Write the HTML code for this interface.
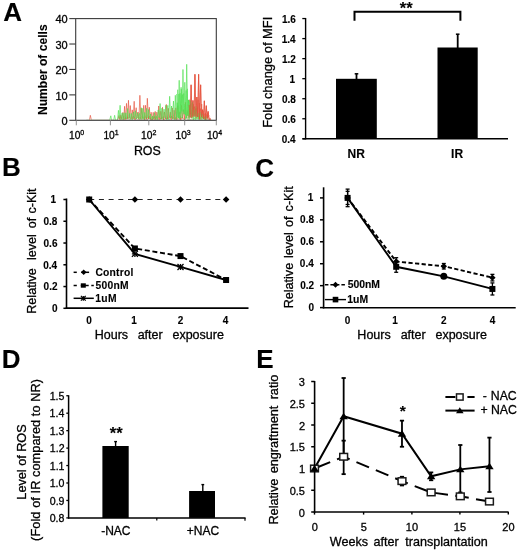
<!DOCTYPE html>
<html><head><meta charset="utf-8"><style>
html,body{margin:0;padding:0;background:#fff;width:520px;height:555px;overflow:hidden}
svg{display:block;font-family:"Liberation Sans", sans-serif;filter:blur(0.3px)}
text{stroke:#000;stroke-width:0.3px}
text[font-weight=bold]{stroke-width:0.12px}
</style></head><body>
<svg width="520" height="555" viewBox="0 0 520 555">
<defs><clipPath id="hclip"><rect x="76.2" y="19" width="139.6" height="100.8"/></clipPath></defs>
<text x="3.35" y="20.80" font-size="26" font-weight="bold">A</text>
<g clip-path="url(#hclip)">
<polyline points="119.00,116.60 119.80,118.82 120.60,116.55 121.40,117.55 122.20,117.60 123.00,118.41 123.80,116.52 124.60,119.83 125.40,117.63 126.20,119.14 127.00,117.60 127.80,117.38 128.60,119.65 129.40,119.50 130.20,120.20 131.00,119.38 131.80,119.99 132.60,118.70 133.40,116.41 134.20,118.84 135.00,119.05 135.80,118.43 136.60,119.17 137.40,117.37 138.20,117.43 139.00,119.65 139.80,119.34 140.60,117.61 141.40,116.54 142.20,117.72 143.00,118.58 143.80,116.40 144.60,120.27 145.40,120.06 146.20,117.18 147.00,118.66 147.80,120.12 148.60,118.11 149.40,116.34 150.20,118.22 151.00,118.90 151.80,119.92 152.60,120.02 153.40,116.70 154.20,118.34 155.00,116.56 155.80,120.08 156.60,119.33 157.40,120.10 158.20,118.71 159.00,120.06 159.80,119.28 160.60,118.67 161.40,119.08 162.20,120.09 163.00,120.15 163.80,116.41 164.60,119.58 165.40,118.27 166.20,118.69 167.00,118.17 167.80,119.96 168.60,119.04 169.40,119.87 170.20,118.13 171.00,116.61 171.80,117.91 172.60,116.87 173.40,119.44 174.20,120.23 175.00,118.14 175.80,118.35 176.60,118.01 177.40,118.79 178.20,117.80 179.00,117.40 179.80,116.65 180.60,119.07 181.40,118.50 182.20,116.99 183.00,119.40 183.80,119.84 184.60,119.05 185.40,119.95 186.20,117.21 187.00,117.02 187.80,119.05 188.60,119.78 189.40,119.97 190.20,119.32 191.00,119.96 191.80,118.59 192.60,117.99 193.40,119.32 194.20,120.05 195.00,117.50 195.80,120.11 196.60,119.50 197.40,119.16 198.20,118.80 199.00,119.91 199.80,118.62 200.60,119.04 201.40,117.29 202.20,118.08 203.00,116.72 203.80,117.68 204.60,117.26 205.40,118.00 206.20,118.53 207.00,117.03 207.80,117.68 208.60,116.48" fill="none" stroke="#7ae87a" stroke-width="0.5" stroke-linejoin="round"/>
<polyline points="118.30,117.39 119.10,117.50 119.90,119.23 120.70,117.05 121.50,118.77 122.30,119.78 123.10,120.04 123.90,119.62 124.70,119.25 125.50,117.60 126.30,119.16 127.10,120.05 127.90,117.24 128.70,118.07 129.50,120.19 130.30,120.10 131.10,119.78 131.90,118.87 132.70,116.86 133.50,116.50 134.30,117.85 135.10,119.38 135.90,118.58 136.70,118.85 137.50,118.98 138.30,120.25 139.10,117.96 139.90,116.99 140.70,117.39 141.50,119.92 142.30,118.18 143.10,119.62 143.90,117.46 144.70,118.52 145.50,116.55 146.30,117.12 147.10,119.83 147.90,119.03 148.70,116.64 149.50,118.46 150.30,118.56 151.10,118.53 151.90,117.23 152.70,116.55 153.50,118.17 154.30,116.42 155.10,117.92 155.90,119.89 156.70,117.04 157.50,118.62 158.30,120.09 159.10,116.39 159.90,120.17 160.70,117.99 161.50,118.37 162.30,116.77 163.10,118.73 163.90,119.44 164.70,119.19 165.50,119.50 166.30,118.05 167.10,118.87 167.90,117.30 168.70,119.33 169.50,118.89 170.30,119.31 171.10,116.37 171.90,116.94 172.70,116.90 173.50,117.83 174.30,118.70 175.10,119.73 175.90,116.97 176.70,118.34 177.50,120.15 178.30,119.62 179.10,119.91 179.90,117.43 180.70,116.70 181.50,119.50 182.30,117.11 183.10,119.00 183.90,117.57 184.70,116.85 185.50,117.81 186.30,117.10 187.10,118.79 187.90,120.26 188.70,118.25 189.50,117.95 190.30,119.56 191.10,118.74 191.90,119.03 192.70,120.19 193.50,119.05 194.30,118.77 195.10,118.40 195.90,117.49 196.70,118.70 197.50,116.37 198.30,117.04 199.10,116.60 199.90,117.53 200.70,117.62 201.50,118.15 202.30,117.11 203.10,118.85 203.90,117.93 204.70,117.58 205.50,118.21 206.30,119.16 207.10,119.99 207.90,119.95 208.70,118.88 209.50,117.98 210.30,117.26" fill="none" stroke="#ea7a60" stroke-width="0.5" stroke-linejoin="round"/>
<polyline points="86.79,120.30 87.70,120.30 88.53,120.30 89.54,119.69 90.34,115.30 91.43,120.30 92.37,120.30 93.44,120.30 94.39,120.30 95.23,120.30 96.11,120.30 97.22,120.30 97.90,120.30 98.88,120.30 99.97,120.30 100.93,120.30 101.74,120.30 102.84,120.30 103.87,120.30 104.66,120.30 105.63,120.30 106.52,120.30 107.49,120.30 108.64,120.30 109.41,120.30 110.54,120.30 111.47,120.30 112.33,120.30 113.18,120.30 114.34,120.30 115.15,120.30 116.07,120.30 117.00,120.30 118.00,119.12 118.94,115.44 119.94,120.15 120.79,114.75 121.90,119.36 122.76,112.53 123.83,119.60 124.57,106.30 125.50,119.62 126.49,103.40 127.49,118.75 128.48,100.30 129.29,118.40 130.29,105.54 131.25,118.94 132.26,109.87 133.16,119.12 134.18,101.30 135.03,120.20 136.17,107.69 137.01,117.90 138.03,112.06 138.92,119.15 139.89,95.30 140.92,119.00 141.72,108.38 142.61,118.00 143.75,105.30 144.70,120.12 145.53,105.32 146.58,119.53 147.34,98.30 148.41,119.01 149.30,107.27 150.33,120.09 151.12,112.23 152.30,119.99 153.20,112.33 154.17,120.27 155.20,111.41 155.86,119.35 156.87,112.08 158.04,118.65 158.74,105.99 159.93,119.55 160.78,111.25 161.60,119.24 162.51,107.30 163.56,120.02 164.42,111.98 165.57,118.83 166.34,104.44 167.34,119.20 168.35,108.30 169.26,117.91 170.31,112.13 171.24,119.91 172.27,107.92 173.14,118.89 174.07,110.19 175.08,119.65 175.84,107.82 176.86,119.70 177.75,105.76 178.85,118.48 179.80,111.85 180.59,120.07 181.57,105.30 182.59,118.06 183.64,109.63 184.57,120.22 185.35,102.30 186.45,117.87 187.23,110.56 188.35,117.82 189.14,104.98 190.16,117.49 191.10,84.80 192.05,117.54 192.94,100.44 194.04,116.56 194.93,74.30 195.91,116.47 196.87,97.02 197.77,116.97 198.61,74.30 199.56,119.39 200.64,84.80 201.45,116.88 202.67,109.67 203.48,118.91 204.33,100.80 205.30,119.95 206.32,105.70 207.20,118.32 208.18,111.45 209.14,119.94 210.14,118.56 210.96,120.30" fill="none" stroke="#e4513a" stroke-width="0.65" stroke-linejoin="round"/>
<polyline points="188.50,109.15 189.10,115.99 189.70,99.63 190.30,114.29 190.90,103.40 191.50,117.75 192.10,110.06 192.70,115.75 193.30,104.19 193.90,115.58 194.50,106.56 195.10,114.45 195.70,108.69 196.30,118.28 196.90,107.97 197.50,116.19 198.10,99.66 198.70,119.20 199.30,103.15 199.90,115.24 200.50,108.53 201.10,119.89 201.70,104.03 202.30,117.81 202.90,111.03 203.50,118.12 204.10,113.80 204.70,119.02 205.30,113.13 205.90,117.59 206.50,114.49 207.10,119.46 207.70,112.67 208.30,117.40 208.90,115.18" fill="none" stroke="#e65a40" stroke-width="0.6" stroke-linejoin="round"/>
<polyline points="176.50,94.01 177.10,117.23 177.70,89.72 178.30,117.55 178.90,93.98 179.50,119.58 180.10,93.23 180.70,113.60 181.30,89.16 181.90,111.33 182.50,94.55 183.10,111.92 183.70,93.53 184.30,114.19 184.90,104.13 185.50,115.13 186.10,90.38 186.70,117.91 187.30,88.81 187.90,114.86 188.50,100.43 189.10,120.27 189.70,100.50" fill="none" stroke="#5ae05a" stroke-width="0.6" stroke-linejoin="round"/>
<polyline points="86.04,120.30 87.02,120.30 87.99,120.30 88.98,120.30 89.87,120.30 90.88,120.30 91.56,120.30 92.64,120.30 93.73,120.30 94.59,120.30 95.62,120.30 96.33,120.30 97.39,120.30 98.27,120.30 99.31,120.30 100.27,120.30 101.05,120.30 102.07,120.30 103.03,120.30 104.17,120.30 105.08,120.30 105.85,120.30 106.99,120.30 107.74,120.30 108.84,120.30 109.64,120.30 110.81,115.80 111.56,120.16 112.74,120.30 113.66,120.30 114.64,115.30 115.50,119.90 116.31,120.30 117.48,120.30 118.44,110.34 119.19,118.69 120.10,105.30 121.02,120.04 122.13,112.91 123.10,120.29 123.94,112.67 124.94,118.83 125.89,112.82 126.72,119.03 127.66,108.46 128.85,118.61 129.79,113.40 130.67,119.48 131.46,113.48 132.69,119.89 133.58,111.93 134.58,118.21 135.36,110.71 136.43,119.12 137.37,112.66 138.36,118.51 139.33,113.25 140.10,120.08 141.23,107.72 142.18,119.48 142.94,108.30 143.85,119.54 144.79,112.41 146.00,118.65 146.66,108.30 147.76,117.93 148.62,109.53 149.75,118.87 150.58,113.99 151.67,120.22 152.50,116.09 153.34,119.17 154.53,112.63 155.44,119.45 156.28,115.72 157.35,119.92 158.19,109.89 159.26,117.75 160.09,103.52 161.12,119.06 161.94,108.17 162.84,119.27 164.05,109.13 164.89,117.85 165.75,105.30 166.68,120.07 167.81,105.34 168.74,119.38 169.66,96.30 170.63,118.11 171.56,106.00 172.45,119.37 173.46,101.09 174.48,119.33 175.32,95.30 176.26,120.25 177.25,102.66 178.25,118.22 179.19,80.30 180.09,118.11 181.10,87.30 182.05,118.09 182.96,69.50 183.99,114.15 184.81,82.30 185.85,119.25 186.69,64.30 187.72,115.94 188.50,99.86 189.57,117.49 190.48,100.71 191.53,118.05 192.47,102.30 193.25,120.20 194.35,109.91 195.31,119.81 196.06,106.30 197.07,119.24 197.99,113.10 198.95,119.59 199.86,111.95 200.91,119.74 201.93,114.01 202.97,120.01 203.77,116.70 204.72,119.97 205.80,116.19 206.51,119.85 207.63,120.30 208.43,120.30 209.51,120.30 210.40,120.30 211.42,120.30" fill="none" stroke="#4ee04e" stroke-width="0.65" stroke-linejoin="round"/>
<polyline points="189.14,104.98 190.16,117.49 191.10,84.80 192.05,117.54 192.94,100.44 194.04,116.56 194.93,74.30 195.91,116.47 196.87,97.02 197.77,116.97 198.61,74.30 199.56,119.39 200.64,84.80 201.45,116.88 202.67,109.67 203.48,118.91 204.33,100.80 205.30,119.95 206.32,105.70 207.20,118.32 208.18,111.45 209.14,119.94 210.14,118.56 210.96,120.30" fill="none" stroke="#e4513a" stroke-width="0.65" stroke-linejoin="round"/>
</g>
<rect x="75.7" y="18.6" width="140.60000000000002" height="101.69999999999999" fill="none" stroke="#3a3a3a" stroke-width="1.1"/>
<line x1="69.30" y1="18.60" x2="75.70" y2="18.60" stroke="#3a3a3a" stroke-width="1.1"/>
<text x="55.49" y="23.29" font-size="11">40</text>
<line x1="69.30" y1="44.02" x2="75.70" y2="44.02" stroke="#3a3a3a" stroke-width="1.1"/>
<text x="55.49" y="48.71" font-size="11">30</text>
<line x1="69.30" y1="69.45" x2="75.70" y2="69.45" stroke="#3a3a3a" stroke-width="1.1"/>
<text x="55.49" y="74.14" font-size="11">20</text>
<line x1="69.30" y1="94.88" x2="75.70" y2="94.88" stroke="#3a3a3a" stroke-width="1.1"/>
<text x="55.49" y="99.56" font-size="11">10</text>
<line x1="69.30" y1="120.30" x2="75.70" y2="120.30" stroke="#3a3a3a" stroke-width="1.1"/>
<text x="61.61" y="124.99" font-size="11">0</text>
<line x1="76.30" y1="120.30" x2="76.30" y2="125.30" stroke="#888" stroke-width="0.9"/>
<text x="69.02" y="139.3" font-size="10.2">10<tspan font-size="7" dy="-4.3">0</tspan></text>
<line x1="110.40" y1="120.30" x2="110.40" y2="125.30" stroke="#888" stroke-width="0.9"/>
<text x="103.42" y="139.3" font-size="10.2">10<tspan font-size="7" dy="-4.3">1</tspan></text>
<line x1="148.80" y1="120.30" x2="148.80" y2="125.30" stroke="#888" stroke-width="0.9"/>
<text x="141.12" y="139.3" font-size="10.2">10<tspan font-size="7" dy="-4.3">2</tspan></text>
<line x1="184.70" y1="120.30" x2="184.70" y2="125.30" stroke="#888" stroke-width="0.9"/>
<text x="175.52" y="139.3" font-size="10.2">10<tspan font-size="7" dy="-4.3">3</tspan></text>
<line x1="216.30" y1="120.30" x2="216.30" y2="125.30" stroke="#888" stroke-width="0.9"/>
<text x="206.92" y="139.3" font-size="10.2">10<tspan font-size="7" dy="-4.3">4</tspan></text>
<text x="133.88" y="154.90" font-size="12.4">ROS</text>
<text transform="translate(47.00 115.08) rotate(-90)" x="0" y="0" font-size="12.1" font-weight="bold">Number of cells</text>
<line x1="305.60" y1="17.96" x2="305.60" y2="139.40" stroke="#000" stroke-width="1.4"/>
<line x1="302.50" y1="138.80" x2="508.00" y2="138.80" stroke="#000" stroke-width="1.4"/>
<line x1="302.30" y1="18.56" x2="305.60" y2="18.56" stroke="#000" stroke-width="1.3"/>
<text x="281.96" y="22.80" font-size="10" font-weight="bold">1.6</text>
<line x1="302.30" y1="38.60" x2="305.60" y2="38.60" stroke="#000" stroke-width="1.3"/>
<text x="281.65" y="42.84" font-size="10" font-weight="bold">1.4</text>
<line x1="302.30" y1="58.64" x2="305.60" y2="58.64" stroke="#000" stroke-width="1.3"/>
<text x="282.00" y="62.93" font-size="10" font-weight="bold">1.2</text>
<line x1="302.30" y1="78.68" x2="305.60" y2="78.68" stroke="#000" stroke-width="1.3"/>
<text x="289.62" y="82.92" font-size="10" font-weight="bold">1</text>
<line x1="302.30" y1="98.72" x2="305.60" y2="98.72" stroke="#000" stroke-width="1.3"/>
<text x="281.91" y="102.96" font-size="10" font-weight="bold">0.8</text>
<line x1="302.30" y1="118.76" x2="305.60" y2="118.76" stroke="#000" stroke-width="1.3"/>
<text x="281.96" y="123.00" font-size="10" font-weight="bold">0.6</text>
<line x1="302.30" y1="138.80" x2="305.60" y2="138.80" stroke="#000" stroke-width="1.3"/>
<text x="281.65" y="143.04" font-size="10" font-weight="bold">0.4</text>
<text transform="translate(272.30 127.75) rotate(-90)" x="0" y="0" font-size="12.9">Fold change of MFI</text>
<rect x="336.00" y="78.80" width="40.80" height="60.00" fill="#000"/>
<line x1="356.50" y1="79.00" x2="356.50" y2="73.80" stroke="#000" stroke-width="1.8"/>
<line x1="354.70" y1="73.80" x2="358.30" y2="73.80" stroke="#000" stroke-width="1.5"/>
<rect x="437.50" y="47.50" width="40.20" height="91.30" fill="#000"/>
<line x1="457.70" y1="48.00" x2="457.70" y2="34.20" stroke="#000" stroke-width="1.8"/>
<line x1="455.90" y1="34.20" x2="459.50" y2="34.20" stroke="#000" stroke-width="1.5"/>
<polyline points="354.50,20.80 354.50,11.80 460.40,11.80 460.40,20.80" fill="none" stroke="#000" stroke-width="2.0" stroke-linejoin="miter"/>
<text x="399.75" y="13.75" font-size="16.5" font-weight="bold">**</text>
<text x="347.60" y="157.80" font-size="12" font-weight="bold">NR</text>
<text x="451.10" y="157.80" font-size="12" font-weight="bold">IR</text>
<text x="2.01" y="175.70" font-size="26" font-weight="bold">B</text>
<line x1="66.50" y1="198.50" x2="66.50" y2="308.70" stroke="#000" stroke-width="1.6"/>
<line x1="65.70" y1="308.10" x2="248.50" y2="308.10" stroke="#000" stroke-width="1.6"/>
<line x1="63.40" y1="199.50" x2="66.50" y2="199.50" stroke="#000" stroke-width="1.5"/>
<text x="50.62" y="203.24" font-size="10" font-weight="bold">1</text>
<line x1="63.40" y1="221.26" x2="66.50" y2="221.26" stroke="#000" stroke-width="1.5"/>
<text x="43.51" y="225.00" font-size="10" font-weight="bold">0.8</text>
<line x1="63.40" y1="243.02" x2="66.50" y2="243.02" stroke="#000" stroke-width="1.5"/>
<text x="43.56" y="246.76" font-size="10" font-weight="bold">0.6</text>
<line x1="63.40" y1="264.78" x2="66.50" y2="264.78" stroke="#000" stroke-width="1.5"/>
<text x="43.25" y="268.52" font-size="10" font-weight="bold">0.4</text>
<line x1="63.40" y1="286.54" x2="66.50" y2="286.54" stroke="#000" stroke-width="1.5"/>
<text x="43.60" y="290.28" font-size="10" font-weight="bold">0.2</text>
<line x1="63.40" y1="308.30" x2="66.50" y2="308.30" stroke="#000" stroke-width="1.5"/>
<text x="51.95" y="312.04" font-size="10" font-weight="bold">0</text>
<text x="86.23" y="324.10" font-size="10" font-weight="bold">0</text>
<text x="131.14" y="324.10" font-size="10" font-weight="bold">1</text>
<text x="177.85" y="324.10" font-size="10" font-weight="bold">2</text>
<text x="222.77" y="324.10" font-size="10" font-weight="bold">4</text>
<text x="94.77" y="338.90" font-size="12.5">Hours</text>
<text x="137.67" y="338.90" font-size="12.5">after</text>
<text x="172.47" y="338.90" font-size="12.5">exposure</text>
<text transform="translate(35.70 313.73) rotate(-90)" x="0" y="0" font-size="12.6">Relative</text>
<text transform="translate(35.70 260.05) rotate(-90)" x="0" y="0" font-size="12.6">level</text>
<text transform="translate(35.70 228.33) rotate(-90)" x="0" y="0" font-size="12.6">of</text>
<text transform="translate(35.70 213.61) rotate(-90)" x="0" y="0" font-size="12.6">c-Kit</text>
<polyline points="89.20,199.50 134.90,199.50 180.50,199.50 226.10,199.50" fill="none" stroke="#222" stroke-width="1.2" stroke-dasharray="5,4.7" stroke-linejoin="miter"/>
<polyline points="89.20,199.50 134.90,248.46 180.50,256.08 226.10,280.01" fill="none" stroke="#000" stroke-width="1.9" stroke-dasharray="5,2.7" stroke-linejoin="miter"/>
<polyline points="89.20,199.50 134.90,253.90 180.50,266.96 226.10,280.01" fill="none" stroke="#000" stroke-width="1.9" stroke-linejoin="miter"/>
<polygon points="89.20,196.20 92.50,199.50 89.20,202.80 85.90,199.50" fill="#000"/>
<polygon points="134.90,196.20 138.20,199.50 134.90,202.80 131.60,199.50" fill="#000"/>
<polygon points="180.50,196.20 183.80,199.50 180.50,202.80 177.20,199.50" fill="#000"/>
<polygon points="226.10,196.20 229.40,199.50 226.10,202.80 222.80,199.50" fill="#000"/>
<rect x="86.20" y="196.50" width="6.00" height="6.00" fill="#000"/>
<rect x="131.90" y="245.46" width="6.00" height="6.00" fill="#000"/>
<rect x="177.50" y="253.08" width="6.00" height="6.00" fill="#000"/>
<rect x="223.10" y="277.01" width="6.00" height="6.00" fill="#000"/>
<line x1="131.90" y1="250.90" x2="137.90" y2="256.90" stroke="#000" stroke-width="1.3"/>
<line x1="131.90" y1="256.90" x2="137.90" y2="250.90" stroke="#000" stroke-width="1.3"/>
<line x1="131.90" y1="253.90" x2="137.90" y2="253.90" stroke="#000" stroke-width="1.3"/>
<line x1="134.90" y1="250.90" x2="134.90" y2="256.90" stroke="#000" stroke-width="1.3"/>
<line x1="177.50" y1="263.96" x2="183.50" y2="269.96" stroke="#000" stroke-width="1.3"/>
<line x1="177.50" y1="269.96" x2="183.50" y2="263.96" stroke="#000" stroke-width="1.3"/>
<line x1="177.50" y1="266.96" x2="183.50" y2="266.96" stroke="#000" stroke-width="1.3"/>
<line x1="180.50" y1="263.96" x2="180.50" y2="269.96" stroke="#000" stroke-width="1.3"/>
<line x1="73.60" y1="272.30" x2="76.80" y2="272.30" stroke="#000" stroke-width="1.5"/>
<line x1="81.20" y1="272.30" x2="89.10" y2="272.30" stroke="#000" stroke-width="1.5"/>
<polygon points="83.70,269.50 86.50,272.30 83.70,275.10 80.90,272.30" fill="#000"/>
<text x="95.38" y="276.18" font-size="10.3" font-weight="bold" textLength="37.95" lengthAdjust="spacing">Control</text>
<line x1="73.60" y1="285.50" x2="76.80" y2="285.50" stroke="#000" stroke-width="1.5"/>
<line x1="80.80" y1="285.50" x2="88.70" y2="285.50" stroke="#000" stroke-width="1.5"/>
<rect x="80.80" y="283.30" width="5.00" height="4.40" fill="#000"/>
<line x1="91.30" y1="285.50" x2="93.80" y2="285.50" stroke="#000" stroke-width="1.5"/>
<text x="95.48" y="289.25" font-size="10.3" font-weight="bold" textLength="33.01" lengthAdjust="spacing">500nM</text>
<line x1="73.60" y1="298.30" x2="93.80" y2="298.30" stroke="#000" stroke-width="1.5"/>
<line x1="80.90" y1="295.90" x2="85.70" y2="300.70" stroke="#000" stroke-width="1.2"/>
<line x1="80.90" y1="300.70" x2="85.70" y2="295.90" stroke="#000" stroke-width="1.2"/>
<line x1="80.90" y1="298.30" x2="85.70" y2="298.30" stroke="#000" stroke-width="1.2"/>
<line x1="83.30" y1="295.90" x2="83.30" y2="300.70" stroke="#000" stroke-width="1.2"/>
<text x="95.15" y="301.99" font-size="10.3" font-weight="bold" textLength="21.54" lengthAdjust="spacing">1uM</text>
<text x="255.23" y="177.30" font-size="26" font-weight="bold">C</text>
<line x1="323.60" y1="187.30" x2="323.60" y2="308.40" stroke="#000" stroke-width="1.6"/>
<line x1="322.80" y1="307.80" x2="515.70" y2="307.80" stroke="#000" stroke-width="1.6"/>
<line x1="320.00" y1="197.90" x2="323.60" y2="197.90" stroke="#000" stroke-width="1.5"/>
<text x="307.72" y="201.04" font-size="10" font-weight="bold">1</text>
<line x1="320.00" y1="219.84" x2="323.60" y2="219.84" stroke="#000" stroke-width="1.5"/>
<text x="300.11" y="222.98" font-size="10" font-weight="bold">0.8</text>
<line x1="320.00" y1="241.78" x2="323.60" y2="241.78" stroke="#000" stroke-width="1.5"/>
<text x="300.16" y="244.92" font-size="10" font-weight="bold">0.6</text>
<line x1="320.00" y1="263.72" x2="323.60" y2="263.72" stroke="#000" stroke-width="1.5"/>
<text x="299.85" y="266.86" font-size="10" font-weight="bold">0.4</text>
<line x1="320.00" y1="285.66" x2="323.60" y2="285.66" stroke="#000" stroke-width="1.5"/>
<text x="300.20" y="288.80" font-size="10" font-weight="bold">0.2</text>
<line x1="320.00" y1="307.60" x2="323.60" y2="307.60" stroke="#000" stroke-width="1.5"/>
<text x="308.55" y="310.74" font-size="10" font-weight="bold">0</text>
<text x="344.83" y="324.40" font-size="10" font-weight="bold">0</text>
<text x="392.24" y="324.40" font-size="10" font-weight="bold">1</text>
<text x="441.05" y="324.40" font-size="10" font-weight="bold">2</text>
<text x="489.67" y="324.40" font-size="10" font-weight="bold">4</text>
<text x="357.37" y="339.40" font-size="12.5">Hours</text>
<text x="400.67" y="339.40" font-size="12.5">after</text>
<text x="435.47" y="339.40" font-size="12.5">exposure</text>
<text transform="translate(292.80 308.33) rotate(-90)" x="0" y="0" font-size="12.6">Relative</text>
<text transform="translate(292.80 258.05) rotate(-90)" x="0" y="0" font-size="12.6">level</text>
<text transform="translate(292.80 226.93) rotate(-90)" x="0" y="0" font-size="12.6">of</text>
<text transform="translate(292.80 211.41) rotate(-90)" x="0" y="0" font-size="12.6">c-Kit</text>
<polyline points="347.60,197.90 396.20,261.53 443.80,266.24 492.40,277.65" fill="none" stroke="#000" stroke-width="1.9" stroke-dasharray="4.2,2.4" stroke-linejoin="miter"/>
<polyline points="347.60,197.90 396.20,266.79 443.80,276.34 492.40,288.95" fill="none" stroke="#000" stroke-width="1.9" stroke-linejoin="miter"/>
<line x1="347.60" y1="189.12" x2="347.60" y2="206.68" stroke="#000" stroke-width="1.3"/>
<line x1="345.60" y1="189.12" x2="349.60" y2="189.12" stroke="#000" stroke-width="1.3"/>
<line x1="345.60" y1="206.68" x2="349.60" y2="206.68" stroke="#000" stroke-width="1.3"/>
<line x1="396.20" y1="257.69" x2="396.20" y2="265.37" stroke="#000" stroke-width="1.3"/>
<line x1="394.20" y1="257.69" x2="398.20" y2="257.69" stroke="#000" stroke-width="1.3"/>
<line x1="394.20" y1="265.37" x2="398.20" y2="265.37" stroke="#000" stroke-width="1.3"/>
<line x1="443.80" y1="263.50" x2="443.80" y2="268.99" stroke="#000" stroke-width="1.3"/>
<line x1="441.80" y1="263.50" x2="445.80" y2="263.50" stroke="#000" stroke-width="1.3"/>
<line x1="441.80" y1="268.99" x2="445.80" y2="268.99" stroke="#000" stroke-width="1.3"/>
<line x1="492.40" y1="274.36" x2="492.40" y2="280.94" stroke="#000" stroke-width="1.3"/>
<line x1="490.40" y1="274.36" x2="494.40" y2="274.36" stroke="#000" stroke-width="1.3"/>
<line x1="490.40" y1="280.94" x2="494.40" y2="280.94" stroke="#000" stroke-width="1.3"/>
<line x1="347.60" y1="191.32" x2="347.60" y2="204.48" stroke="#000" stroke-width="1.3"/>
<line x1="345.60" y1="191.32" x2="349.60" y2="191.32" stroke="#000" stroke-width="1.3"/>
<line x1="345.60" y1="204.48" x2="349.60" y2="204.48" stroke="#000" stroke-width="1.3"/>
<line x1="396.20" y1="261.31" x2="396.20" y2="272.28" stroke="#000" stroke-width="1.3"/>
<line x1="394.20" y1="261.31" x2="398.20" y2="261.31" stroke="#000" stroke-width="1.3"/>
<line x1="394.20" y1="272.28" x2="398.20" y2="272.28" stroke="#000" stroke-width="1.3"/>
<line x1="443.80" y1="275.24" x2="443.80" y2="277.43" stroke="#000" stroke-width="1.3"/>
<line x1="441.80" y1="275.24" x2="445.80" y2="275.24" stroke="#000" stroke-width="1.3"/>
<line x1="441.80" y1="277.43" x2="445.80" y2="277.43" stroke="#000" stroke-width="1.3"/>
<line x1="492.40" y1="282.92" x2="492.40" y2="294.98" stroke="#000" stroke-width="1.3"/>
<line x1="490.40" y1="282.92" x2="494.40" y2="282.92" stroke="#000" stroke-width="1.3"/>
<line x1="490.40" y1="294.98" x2="494.40" y2="294.98" stroke="#000" stroke-width="1.3"/>
<polygon points="347.60,194.70 350.80,197.90 347.60,201.10 344.40,197.90" fill="#000"/>
<polygon points="396.20,258.33 399.40,261.53 396.20,264.73 393.00,261.53" fill="#000"/>
<polygon points="443.80,263.04 447.00,266.24 443.80,269.44 440.60,266.24" fill="#000"/>
<polygon points="492.40,274.45 495.60,277.65 492.40,280.85 489.20,277.65" fill="#000"/>
<rect x="344.60" y="194.90" width="6.00" height="6.00" fill="#000"/>
<rect x="393.20" y="263.79" width="6.00" height="6.00" fill="#000"/>
<circle cx="443.8" cy="276.34" r="3.5" fill="#000"/>
<rect x="489.40" y="285.95" width="6.00" height="6.00" fill="#000"/>
<line x1="324.90" y1="284.80" x2="346.00" y2="284.80" stroke="#000" stroke-width="1.4" stroke-dasharray="3.5,2"/>
<polygon points="335.50,281.80 338.50,284.80 335.50,287.80 332.50,284.80" fill="#000"/>
<text x="347.68" y="288.38" font-size="10.4" font-weight="bold">500nM</text>
<line x1="324.90" y1="299.60" x2="346.00" y2="299.60" stroke="#000" stroke-width="1.4"/>
<rect x="332.70" y="296.80" width="5.60" height="5.60" fill="#000"/>
<text x="347.34" y="303.13" font-size="10.4" font-weight="bold">1uM</text>
<text x="1.76" y="367.80" font-size="26" font-weight="bold">D</text>
<line x1="68.60" y1="395.25" x2="68.60" y2="518.60" stroke="#000" stroke-width="1.5"/>
<line x1="68.00" y1="517.90" x2="245.60" y2="517.90" stroke="#000" stroke-width="1.5"/>
<line x1="156.80" y1="517.90" x2="156.80" y2="520.60" stroke="#000" stroke-width="1.2"/>
<line x1="245.00" y1="517.90" x2="245.00" y2="520.80" stroke="#000" stroke-width="1.2"/>
<line x1="66.30" y1="395.75" x2="68.60" y2="395.75" stroke="#000" stroke-width="1.3"/>
<text x="49.71" y="399.74" font-size="10.6">1.5</text>
<line x1="66.30" y1="413.20" x2="68.60" y2="413.20" stroke="#000" stroke-width="1.3"/>
<text x="49.58" y="417.25" font-size="10.6">1.4</text>
<line x1="66.30" y1="430.65" x2="68.60" y2="430.65" stroke="#000" stroke-width="1.3"/>
<text x="49.73" y="434.70" font-size="10.6">1.3</text>
<line x1="66.30" y1="448.10" x2="68.60" y2="448.10" stroke="#000" stroke-width="1.3"/>
<text x="49.80" y="452.20" font-size="10.6">1.2</text>
<line x1="66.30" y1="465.55" x2="68.60" y2="465.55" stroke="#000" stroke-width="1.3"/>
<text x="49.78" y="469.60" font-size="10.6">1.1</text>
<line x1="66.30" y1="483.00" x2="68.60" y2="483.00" stroke="#000" stroke-width="1.3"/>
<text x="49.68" y="487.05" font-size="10.6">1.0</text>
<line x1="66.30" y1="500.45" x2="68.60" y2="500.45" stroke="#000" stroke-width="1.3"/>
<text x="49.77" y="504.50" font-size="10.6">0.9</text>
<line x1="66.30" y1="517.90" x2="68.60" y2="517.90" stroke="#000" stroke-width="1.3"/>
<text x="49.73" y="521.95" font-size="10.6">0.8</text>
<text transform="translate(25.70 499.64) rotate(-90)" x="0" y="0" font-size="12.7" textLength="75.32" lengthAdjust="spacing">Level of ROS</text>
<text transform="translate(39.90 540.89) rotate(-90)" x="0" y="0" font-size="12.7" textLength="161.88" lengthAdjust="spacing">(Fold of IR compared to NR)</text>
<rect x="102.40" y="446.00" width="26.30" height="72.00" fill="#000"/>
<line x1="115.60" y1="446.50" x2="115.60" y2="441.60" stroke="#000" stroke-width="1.4"/>
<line x1="114.20" y1="441.60" x2="117.00" y2="441.60" stroke="#000" stroke-width="1.4"/>
<rect x="189.10" y="491.00" width="25.90" height="26.90" fill="#000"/>
<line x1="202.80" y1="491.50" x2="202.80" y2="484.60" stroke="#000" stroke-width="1.4"/>
<line x1="201.40" y1="484.60" x2="204.20" y2="484.60" stroke="#000" stroke-width="1.4"/>
<text x="109.76" y="439.08" font-size="16.5" font-weight="bold">**</text>
<text x="101.17" y="534.90" font-size="12">-NAC</text>
<text x="186.81" y="534.90" font-size="12">+NAC</text>
<text x="256.26" y="367.50" font-size="26" font-weight="bold">E</text>
<line x1="311.20" y1="381.50" x2="314.60" y2="381.50" stroke="#000" stroke-width="1.5"/>
<text x="298.87" y="386.29" font-size="11">3</text>
<line x1="311.20" y1="403.25" x2="314.60" y2="403.25" stroke="#000" stroke-width="1.5"/>
<text x="289.67" y="408.04" font-size="11">2.5</text>
<line x1="311.20" y1="425.00" x2="314.60" y2="425.00" stroke="#000" stroke-width="1.5"/>
<text x="298.94" y="429.84" font-size="11">2</text>
<line x1="311.20" y1="446.75" x2="314.60" y2="446.75" stroke="#000" stroke-width="1.5"/>
<text x="289.67" y="451.48" font-size="11">1.5</text>
<line x1="311.20" y1="468.50" x2="314.60" y2="468.50" stroke="#000" stroke-width="1.5"/>
<text x="298.92" y="473.28" font-size="11">1</text>
<line x1="311.20" y1="490.25" x2="314.60" y2="490.25" stroke="#000" stroke-width="1.5"/>
<text x="289.67" y="495.04" font-size="11">0.5</text>
<line x1="311.20" y1="512.00" x2="314.60" y2="512.00" stroke="#000" stroke-width="1.5"/>
<text x="298.81" y="516.79" font-size="11">0</text>
<line x1="314.50" y1="512.00" x2="314.50" y2="514.60" stroke="#000" stroke-width="1.4"/>
<text x="311.64" y="531.40" font-size="11">0</text>
<line x1="363.60" y1="512.00" x2="363.60" y2="514.60" stroke="#000" stroke-width="1.4"/>
<text x="360.75" y="531.40" font-size="11">5</text>
<line x1="411.90" y1="512.00" x2="411.90" y2="514.60" stroke="#000" stroke-width="1.4"/>
<text x="405.78" y="531.40" font-size="11">10</text>
<line x1="459.90" y1="512.00" x2="459.90" y2="514.60" stroke="#000" stroke-width="1.4"/>
<text x="453.79" y="531.40" font-size="11">15</text>
<line x1="508.30" y1="512.00" x2="508.30" y2="514.60" stroke="#000" stroke-width="1.4"/>
<text x="502.32" y="531.40" font-size="11">20</text>
<text x="329.74" y="546.20" font-size="12.6">Weeks</text>
<text x="373.46" y="546.20" font-size="12.6">after</text>
<text x="405.21" y="546.20" font-size="12.6">transplantation</text>
<text transform="translate(278.30 524.54) rotate(-90)" x="0" y="0" font-size="12.7">Relative</text>
<text transform="translate(278.30 473.34) rotate(-90)" x="0" y="0" font-size="12.7">engraftment</text>
<text transform="translate(278.30 399.37) rotate(-90)" x="0" y="0" font-size="12.7">ratio</text>
<polyline points="314.50,468.50 343.66,456.75 401.98,481.12 431.14,492.43 460.30,496.34 489.46,501.56" fill="none" stroke="#000" stroke-width="2" stroke-dasharray="13.6,7.4" stroke-dashoffset="17.7"/>
<polyline points="314.50,468.50 343.66,416.30 401.98,433.70 431.14,476.33 460.30,469.37 489.46,466.32" fill="none" stroke="#000" stroke-width="2.0" stroke-linejoin="miter"/>
<line x1="343.66" y1="440.66" x2="343.66" y2="474.15" stroke="#000" stroke-width="1.8"/>
<line x1="341.56" y1="440.66" x2="345.76" y2="440.66" stroke="#000" stroke-width="1.8"/>
<line x1="341.56" y1="474.15" x2="345.76" y2="474.15" stroke="#000" stroke-width="1.8"/>
<line x1="343.66" y1="378.02" x2="343.66" y2="455.45" stroke="#000" stroke-width="1.8"/>
<line x1="341.56" y1="378.02" x2="345.76" y2="378.02" stroke="#000" stroke-width="1.8"/>
<line x1="341.56" y1="455.45" x2="345.76" y2="455.45" stroke="#000" stroke-width="1.8"/>
<line x1="401.98" y1="476.76" x2="401.98" y2="485.46" stroke="#000" stroke-width="1.8"/>
<line x1="399.88" y1="476.76" x2="404.08" y2="476.76" stroke="#000" stroke-width="1.8"/>
<line x1="399.88" y1="485.46" x2="404.08" y2="485.46" stroke="#000" stroke-width="1.8"/>
<line x1="401.98" y1="420.65" x2="401.98" y2="446.75" stroke="#000" stroke-width="1.8"/>
<line x1="399.88" y1="420.65" x2="404.08" y2="420.65" stroke="#000" stroke-width="1.8"/>
<line x1="399.88" y1="446.75" x2="404.08" y2="446.75" stroke="#000" stroke-width="1.8"/>
<line x1="431.14" y1="472.42" x2="431.14" y2="480.25" stroke="#000" stroke-width="1.8"/>
<line x1="429.04" y1="472.42" x2="433.24" y2="472.42" stroke="#000" stroke-width="1.8"/>
<line x1="429.04" y1="480.25" x2="433.24" y2="480.25" stroke="#000" stroke-width="1.8"/>
<line x1="460.30" y1="445.01" x2="460.30" y2="492.43" stroke="#000" stroke-width="1.8"/>
<line x1="458.20" y1="445.01" x2="462.40" y2="445.01" stroke="#000" stroke-width="1.8"/>
<line x1="458.20" y1="492.43" x2="462.40" y2="492.43" stroke="#000" stroke-width="1.8"/>
<line x1="489.46" y1="437.62" x2="489.46" y2="491.99" stroke="#000" stroke-width="1.8"/>
<line x1="487.36" y1="437.62" x2="491.56" y2="437.62" stroke="#000" stroke-width="1.8"/>
<line x1="487.36" y1="491.99" x2="491.56" y2="491.99" stroke="#000" stroke-width="1.8"/>
<rect x="310.60" y="465.20" width="7.80" height="6.60" fill="#fff" stroke="#1a1a1a" stroke-width="1.5"/>
<rect x="339.76" y="453.45" width="7.80" height="6.60" fill="#fff" stroke="#1a1a1a" stroke-width="1.5"/>
<rect x="398.08" y="477.81" width="7.80" height="6.60" fill="#fff" stroke="#1a1a1a" stroke-width="1.5"/>
<rect x="427.24" y="489.12" width="7.80" height="6.60" fill="#fff" stroke="#1a1a1a" stroke-width="1.5"/>
<rect x="456.40" y="493.04" width="7.80" height="6.60" fill="#fff" stroke="#1a1a1a" stroke-width="1.5"/>
<rect x="485.56" y="498.26" width="7.80" height="6.60" fill="#fff" stroke="#1a1a1a" stroke-width="1.5"/>
<polygon points="314.50,464.87 318.70,471.47 310.30,471.47" fill="#000"/>
<polygon points="343.66,412.67 347.86,419.27 339.46,419.27" fill="#000"/>
<polygon points="401.98,430.07 406.18,436.67 397.78,436.67" fill="#000"/>
<polygon points="431.14,472.70 435.34,479.30 426.94,479.30" fill="#000"/>
<polygon points="460.30,465.74 464.50,472.34 456.10,472.34" fill="#000"/>
<polygon points="489.46,462.69 493.66,469.30 485.26,469.30" fill="#000"/>
<line x1="314.60" y1="381.00" x2="314.60" y2="512.80" stroke="#000" stroke-width="1.6"/>
<line x1="313.80" y1="512.00" x2="508.60" y2="512.00" stroke="#000" stroke-width="1.6"/>
<text x="399.85" y="416.06" font-size="15.5" font-weight="bold">*</text>
<line x1="445.40" y1="397.00" x2="474.60" y2="397.00" stroke="#000" stroke-width="1.8" stroke-dasharray="10,12"/>
<rect x="456.50" y="393.90" width="6.60" height="6.20" fill="#fff" stroke="#1a1a1a" stroke-width="1.5"/>
<line x1="445.40" y1="410.60" x2="474.60" y2="410.60" stroke="#000" stroke-width="2.0"/>
<polygon points="459.80,407.30 463.60,413.30 456.00,413.30" fill="#000"/>
<text x="482.75" y="399.70" font-size="12.3">-</text>
<text x="490.79" y="399.70" font-size="12.3">NAC</text>
<text x="480.60" y="414.30" font-size="12.3">+</text>
<text x="490.99" y="414.30" font-size="12.3">NAC</text>
</svg>
</body></html>
